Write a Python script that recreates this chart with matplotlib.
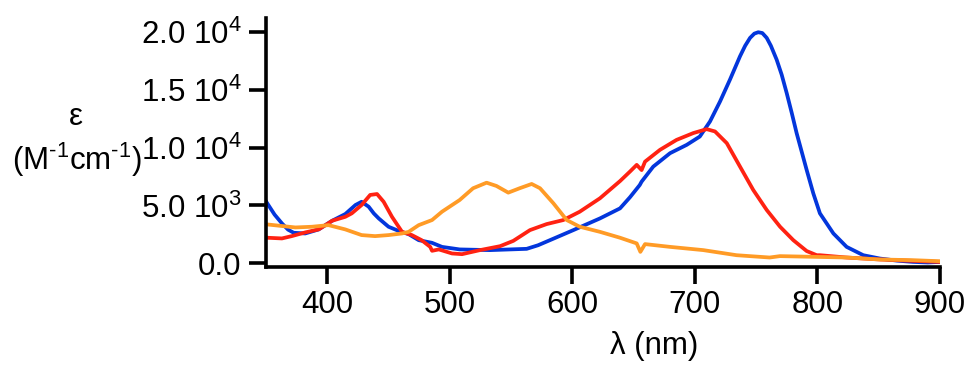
import matplotlib
matplotlib.use("Agg")
import matplotlib.pyplot as plt
from matplotlib.ticker import FixedLocator, FixedFormatter

plt.rcParams['font.family'] = ['Liberation Sans', 'DejaVu Sans']
plt.rcParams['mathtext.fontset'] = 'custom'
plt.rcParams['mathtext.rm'] = 'Liberation Sans'
plt.rcParams['mathtext.it'] = 'Liberation Sans:italic'
plt.rcParams['mathtext.bf'] = 'Liberation Sans:bold'

# ---- data (wavelength nm, epsilon M^-1 cm^-1) ----
blue_x = [350, 351, 357, 363, 368, 372.6, 382, 393, 404, 414.7, 423, 428, 433.8, 438, 442, 450, 458, 466.4,
          474.6, 485.5, 493.6, 508, 532.8, 562.7, 572, 581.7, 600.8, 622.5, 638.9, 647, 655, 656.5,
          666, 679.7, 693.3, 704, 712.3, 720.5, 728.6, 736.8, 741, 745, 748.5, 751.7, 755, 758.6, 762,
          766.7, 770.8, 774.9, 779, 783, 791.2, 796.6, 802, 813, 823.8, 837.4, 851, 865, 878, 890, 900]
blue_y = [5350, 5180, 4200, 3440, 2900, 2630, 2570, 2920, 3670, 4250, 5030, 5310, 4880, 4300, 3870, 3150, 2800, 2510,
          1990, 1760, 1410, 1190, 1130, 1240, 1550, 1990, 2860, 3870, 4740, 5700, 6760, 7050,
          8350, 9510, 10230, 10950, 12250, 13980, 15870, 17890, 18800, 19480, 19850, 19970, 19900, 19480, 18800,
          17600, 16300, 14710, 13000, 11250, 8060, 6040, 4310, 2570, 1410, 690, 400, 220, 110, 60, 110]

red_x = [350, 351, 363, 371, 382, 393, 404, 414.7, 420, 428, 435, 440.6, 446, 452.8, 461, 469,
         477, 484, 485.5, 491, 501.8, 510, 524.6, 541, 551.8, 565.4, 579, 592.6, 606, 622.5,
         638.9, 647, 652.5, 656.5, 659.3, 671.5, 685, 698.7, 709.6, 716.4, 726, 736.8, 747.6,
         758.6, 769.5, 780.3, 791.2, 799.4, 802, 823.8, 851, 878, 900]
red_y = [2250, 2200, 2140, 2340, 2660, 2920, 3670, 4010, 4310, 5030, 5900, 5980, 5310, 4010, 2710, 2430,
         1990, 1410, 1070, 1190, 840, 780, 1130, 1470, 1930, 2860, 3380, 3730, 4450, 5610,
         7100, 7920, 8500, 8050, 8780, 9800, 10660, 11250, 11590, 11390, 10380, 8350, 6330,
         4600, 3150, 1990, 1050, 690, 690, 490, 320, 200, 110]

orange_x = [350, 351, 374, 387.5, 401, 414.7, 428, 439, 450, 461, 466.4, 474.6, 485.5, 493.6,
            508, 519, 530, 538, 547.7, 557, 566.8, 573.6, 584.5, 595.4, 606, 622.5, 638.9,
            652.5, 655.5, 659.3, 679.7, 706.8, 734, 761, 769.4, 796.6, 823.8, 851, 878, 900]
orange_y = [3350, 3350, 3090, 3150, 3290, 2920, 2430, 2340, 2430, 2570, 2710, 3290, 3730, 4450,
            5460, 6480, 6960, 6680, 6100, 6480, 6850, 6480, 5180, 3730, 3150, 2710, 2200,
            1710, 980, 1650, 1410, 1130, 690, 490, 610, 550, 490, 320, 260, 170]

xticks = [400, 500, 600, 700, 800, 900]
yticks = [0, 5000, 10000, 15000, 20000]
ytick_labels = ['0.0', '5.0 10$^{3}$', '1.0 10$^{4}$', '1.5 10$^{4}$', '2.0 10$^{4}$']

W, H = 966, 367
fig = plt.figure(figsize=(W / 100, H / 100), dpi=100)
ax = fig.add_axes([266 / W, 1 - 267 / H, (940 - 266) / W, (267 - 18) / H])

lw = 2.7
ax.plot(blue_x, blue_y, color='#0336dc', lw=lw)
ax.plot(red_x, red_y, color='#ff2212', lw=lw)
ax.plot(orange_x, orange_y, color='#ff9b26', lw=lw)

ax.set_xlim(350, 900)
ax.set_ylim(-330, 21200)
for s in ['top', 'right']:
    ax.spines[s].set_visible(False)
for s in ['left', 'bottom']:
    ax.spines[s].set_linewidth(2.6)

fs = 22.5
ax.xaxis.set_major_locator(FixedLocator(xticks))
ax.set_xticklabels([str(v) for v in xticks])
ax.yaxis.set_major_locator(FixedLocator(yticks))
ax.yaxis.set_major_formatter(FixedFormatter(ytick_labels))
ax.tick_params(axis='both', direction='out', length=12.5, width=2.6, labelsize=fs, color='black')
ax.tick_params(axis='x', pad=4)
ax.tick_params(axis='y', pad=5)

fig.text(654 / W, 1 - 346 / H, 'λ (nm)', ha='center', va='center', fontsize=fs)
fig.text(76 / W, 1 - 117 / H, 'ε', ha='center', va='center', fontsize=fs)
fig.text(77 / W, 1 - 160 / H, r'(M$^{\text{-}1}$cm$^{\text{-}1}$)', ha='center', va='center', fontsize=fs)

fig.savefig('out.png', dpi=100)
